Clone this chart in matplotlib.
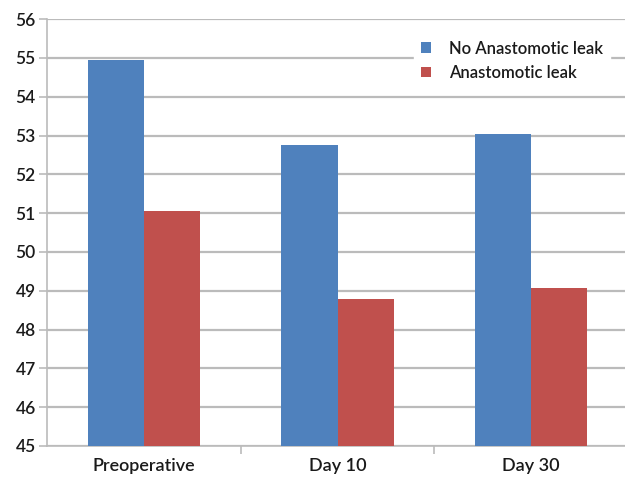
import matplotlib.pyplot as plt
import numpy as np

plt.rcParams['font.family'] = ['Lato', 'DejaVu Sans']
plt.rcParams['font.weight'] = 'semibold'

categories = ['Preoperative', 'Day 10', 'Day 30']
no_leak = [54.95, 52.75, 53.05]
leak = [51.05, 48.78, 49.08]
series_names = ['No Anastomotic leak', 'Anastomotic leak']
yticks = list(range(45, 57))

blue = '#4F81BD'
red = '#C0504D'
grid_c = '#BBBBBB'
text_c = '#1A1A1A'

fig = plt.figure(figsize=(6.25, 4.78), dpi=100)
ax = fig.add_axes([0.075, 0.067, 0.93, 0.893])

x = np.arange(len(categories))
w = 0.29
ax.bar(x - w / 2, no_leak, w, color=blue, label=series_names[0], zorder=3)
ax.bar(x + w / 2, leak, w, color=red, label=series_names[1], zorder=3)

ax.set_ylim(45, 56)
ax.set_xlim(-0.5, len(categories) - 0.5)
ax.set_yticks(yticks)
ax.yaxis.grid(True, color=grid_c, linewidth=1.6, zorder=0)
ax.set_axisbelow(True)

# category labels centred, tick marks on the group boundaries
ax.set_xticks(x)
ax.set_xticklabels(categories, fontsize=13, color=text_c)
ax.tick_params(axis='x', length=0, pad=9)
ax.set_xticks(np.arange(len(categories)) + 0.5, minor=True)
ax.tick_params(axis='x', which='minor', length=6, color=grid_c, width=1.2)
ax.tick_params(axis='y', length=6, color=grid_c, width=1.2, labelsize=12.5,
               labelcolor=text_c, pad=2)

for side in ['top', 'right']:
    ax.spines[side].set_visible(False)
for side in ['left', 'bottom']:
    ax.spines[side].set_color(grid_c)
    ax.spines[side].set_linewidth(1.2)

leg = ax.legend(loc='upper left', bbox_to_anchor=(0.617, 0.985), frameon=True,
                fontsize=12, handlelength=0.6, handleheight=0.6,
                handletextpad=1.1, labelspacing=0.5, borderpad=0.4)
leg.get_frame().set_facecolor('white')
leg.get_frame().set_edgecolor('white')
leg.get_frame().set_alpha(1)
for t in leg.get_texts():
    t.set_color(text_c)

fig.savefig('out.png', dpi=100)
